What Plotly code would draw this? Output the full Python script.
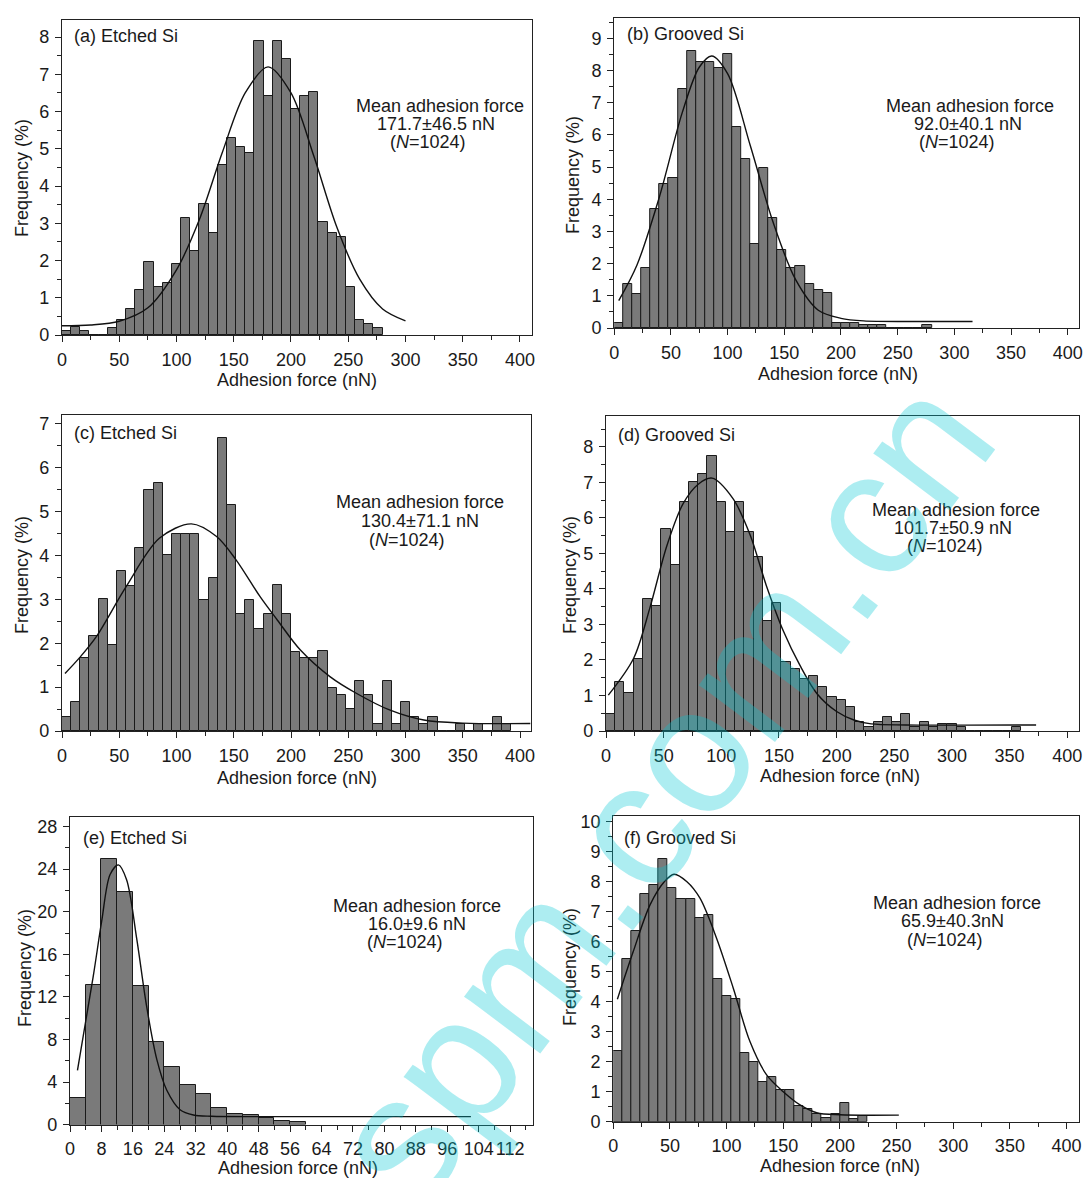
import plotly.graph_objects as go

W, H = 1087, 1178
FONT = "Liberation Sans, Arial, sans-serif"

# ---- histogram data: frequency (%) per bin, N = 1024 -----------------------
a_bin = 8
a_freq = [0.1, 0.22, 0.1, 0, 0, 0.2, 0.4, 0.7, 1.21, 1.97, 1.28, 1.4, 1.9, 3.15,
          2.26, 3.52, 2.73, 4.56, 5.28, 5.06, 4.88, 7.89, 6.43, 7.89, 7.41, 6.06,
          6.43, 6.53, 3.04, 2.73, 2.64, 1.29, 0.4, 0.29, 0.2]
a_fit_x = [0, 25, 50, 75, 100, 120, 140, 160, 180, 200, 220, 240, 260, 280, 300]
a_fit_y = [0.25, 0.27, 0.37, 0.73, 1.75, 3.1, 4.9, 6.5, 7.2, 6.5, 4.8, 2.9, 1.5, 0.7, 0.38]

b_bin = 8
b_freq = [0.16, 1.37, 1.06, 1.85, 3.7, 4.47, 4.65, 7.41, 8.6, 8.27, 8.27, 8.08,
          8.5, 6.23, 5.24, 2.61, 4.96, 3.41, 2.42, 1.85, 1.94, 1.37, 1.18, 1.08,
          0.16, 0.16, 0.16, 0.1, 0.1, 0.1, 0, 0, 0, 0, 0.1]
b_fit_x = [4, 20, 40, 60, 75, 86, 100, 120, 140, 160, 180, 200, 220, 260, 316]
b_fit_y = [0.85, 1.95, 4.09, 6.69, 8.1, 8.45, 7.9, 5.67, 3.3, 1.5, 0.55, 0.3, 0.22, 0.2, 0.2]

c_bin = 8
c_freq = [0.31, 0.65, 1.66, 2.16, 3.0, 1.97, 3.65, 3.3, 4.18, 5.49, 5.66, 4.01,
          4.49, 4.49, 4.49, 2.98, 3.48, 6.67, 5.15, 2.66, 2.98, 2.32, 2.66, 3.33,
          2.66, 1.81, 1.66, 1.66, 1.82, 0.99, 0.82, 0.49, 1.15, 0.82, 0.15, 1.15,
          0.15, 0.65, 0.33, 0.15, 0.33, 0, 0, 0.15, 0, 0.15, 0, 0.33, 0.15]
c_fit_x = [2.6, 15, 30, 56, 85, 113, 135, 152, 173, 188, 208, 234, 257, 286, 316, 350, 409]
c_fit_y = [1.31, 1.66, 2.15, 3.29, 4.39, 4.72, 4.43, 3.9, 3.06, 2.53, 1.85, 1.24, 0.86,
           0.48, 0.25, 0.18, 0.17]

d_bin = 8
d_freq = [0.48, 1.37, 1.06, 2.02, 3.71, 3.52, 5.68, 4.68, 6.44, 7.02, 7.23, 7.73,
          6.44, 5.59, 6.44, 5.59, 4.89, 3.1, 3.6, 1.93, 1.75, 1.46, 1.55, 1.25,
          0.97, 0.87, 0.69, 0.26, 0.1, 0.26, 0.39, 0.26, 0.48, 0.1, 0.26, 0.1,
          0.2, 0.2, 0.1, 0, 0, 0, 0, 0, 0.1]
d_fit_x = [2, 24, 38, 53, 67, 80, 92, 110, 125, 139, 154, 168, 183, 200, 215, 230, 260, 373]
d_fit_y = [1.01, 2.05, 3.46, 5.24, 6.41, 6.95, 7.12, 6.55, 5.52, 4.1, 2.8, 1.86, 1.05,
           0.55, 0.31, 0.2, 0.17, 0.17]

e_bin = 4
e_freq = [2.5, 13.1, 25.0, 21.9, 13.0, 7.8, 5.4, 3.7, 2.9, 1.6, 1.0, 0.9, 0.6, 0.3, 0.2]
e_fit_x = [1.9, 5.9, 8.1, 10.2, 12.3, 14.4, 17, 19.5, 22.1, 24.6, 28, 31.4, 36, 50, 102]
e_fit_y = [5.1, 13.9, 19.2, 23.5, 24.4, 23.0, 17.4, 11.1, 6.1, 3.25, 1.4, 0.9, 0.78, 0.75, 0.75]

f_bin = 8
f_freq = [2.37, 5.41, 6.36, 7.59, 7.89, 8.75, 7.8, 7.41, 7.41, 6.8, 6.89, 4.76,
          4.2, 4.09, 2.28, 1.98, 1.33, 1.5, 1.06, 1.06, 0.52, 0.42, 0.25, 0.14,
          0.25, 0.61, 0.1, 0.2]
f_fit_x = [3.6, 17.6, 32.3, 45, 53.6, 65, 76.5, 91.2, 105.9, 120.6, 135.3, 150,
           164.8, 179.5, 200, 252]
f_fit_y = [4.08, 5.67, 7.22, 8.0, 8.25, 8.0, 7.45, 6.11, 4.45, 2.67, 1.56, 1.0,
           0.56, 0.3, 0.23, 0.22]

panel_titles = ["(a) Etched Si", "(b) Grooved Si", "(c) Etched Si",
                "(d) Grooved Si", "(e) Etched Si", "(f) Grooved Si"]
stat_lines = [
    ["Mean adhesion force", "171.7±46.5 nN", "(<i>N</i>=1024)"],
    ["Mean adhesion force", "92.0±40.1 nN", "(<i>N</i>=1024)"],
    ["Mean adhesion force", "130.4±71.1 nN", "(<i>N</i>=1024)"],
    ["Mean adhesion force", "101.7±50.9 nN", "(<i>N</i>=1024)"],
    ["Mean adhesion force", "16.0±9.6 nN", "(<i>N</i>=1024)"],
    ["Mean adhesion force", "65.9±40.3nN", "(<i>N</i>=1024)"],
]
x_title = "Adhesion force (nN)"
y_title = "Frequency (%)"
watermark = "spm.com.cn"

# ---- layout of each panel (pixel box: left, top, right, bottom) ------------
panels = [
    dict(data=(a_bin, a_freq, a_fit_x, a_fit_y), box=(62, 20, 532, 335),
         xr=[0, 410.5], yr=[0, 8.46], xd=50, xm=25, yd=1, ym=0.5,
         lab=(72, 36), stat=[(440, 106), (436, 124), (428, 142)],
         ytl=(22, 178), xtl=(297, 380)),
    dict(data=(b_bin, b_freq, b_fit_x, b_fit_y), box=(614.2, 18, 1079, 328),
         xr=[0, 409.9], yr=[0, 9.63], xd=50, xm=25, yd=1, ym=0.5,
         lab=(625, 34), stat=[(970, 106), (968, 124), (957, 142)],
         ytl=(573, 175), xtl=(838, 374)),
    dict(data=(c_bin, c_freq, c_fit_x, c_fit_y), box=(62, 415, 531, 731),
         xr=[0, 409.6], yr=[0, 7.2], xd=50, xm=25, yd=1, ym=0.5,
         lab=(72, 433), stat=[(420, 502), (420, 521), (407, 540)],
         ytl=(22, 575), xtl=(297, 778)),
    dict(data=(d_bin, d_freq, d_fit_x, d_fit_y), box=(606, 416, 1079, 731),
         xr=[0, 410.2], yr=[0, 8.87], xd=50, xm=25, yd=1, ym=0.5,
         lab=(616, 435), stat=[(956, 510), (953, 528), (945, 546)],
         ytl=(570, 575), xtl=(840, 776)),
    dict(data=(e_bin, e_freq, e_fit_x, e_fit_y), box=(70, 817, 533, 1124.6),
         xr=[0, 117.8], yr=[0, 28.9], xd=8, xm=4, yd=4, ym=2,
         lab=(81, 838), stat=[(417, 906), (417, 924), (405, 942)],
         ytl=(25, 968), xtl=(298, 1168)),
    dict(data=(f_bin, f_freq, f_fit_x, f_fit_y), box=(613.3, 816, 1079, 1121.7),
         xr=[0, 411], yr=[0, 10.19], xd=50, xm=25, yd=1, ym=0.5,
         lab=(622, 838), stat=[(957, 903), (952, 921), (945, 940)],
         ytl=(570, 967), xtl=(840, 1166)),
]


def fx(px):
    return px / W


def fy(py):
    return 1 - py / H


fig = go.Figure()
annotations = []
AX = "#222222"

for i, p in enumerate(panels):
    n = "" if i == 0 else str(i + 1)
    bin_w, freq, fit_x, fit_y = p["data"]
    centers = [bin_w * (k + 0.5) for k in range(len(freq))]

    fig.add_trace(go.Bar(
        x=centers, y=freq, width=bin_w, xaxis="x" + n, yaxis="y" + n,
        marker=dict(color="#7a7a7a", line=dict(color="#1a1a1a", width=1)),
        showlegend=False, hoverinfo="x+y"))
    fig.add_trace(go.Scatter(
        x=fit_x, y=fit_y, mode="lines", xaxis="x" + n, yaxis="y" + n,
        line=dict(color="#111111", width=1.4, shape="spline", smoothing=0.9),
        showlegend=False))

    l, t, r, b = p["box"]
    common = dict(showline=True, linecolor=AX, linewidth=1.2, mirror=True,
                  ticks="outside", ticklen=6, tickwidth=1.2, tickcolor=AX,
                  showgrid=False, zeroline=False, automargin=False,
                  tickfont=dict(family=FONT, size=18, color="#1a1a1a"))
    fig.layout["xaxis" + n] = dict(
        domain=[fx(l), fx(r)], range=p["xr"], anchor="y" + n, tick0=0,
        dtick=p["xd"], tickangle=0,
        minor=dict(dtick=p["xm"], tick0=0, ticks="outside",
                   ticklen=4, tickcolor=AX, tickwidth=1.2),
        ticklabelstandoff=2, **common)
    fig.layout["yaxis" + n] = dict(
        domain=[fy(b), fy(t)], range=p["yr"], anchor="x" + n, tick0=0,
        dtick=p["yd"],
        minor=dict(dtick=p["ym"], tick0=0, ticks="outside",
                   ticklen=4, tickcolor=AX, tickwidth=1.2),
        ticklabelstandoff=2, **common)

    txt = dict(xref="paper", yref="paper", showarrow=False,
               font=dict(family=FONT, size=18, color="#1a1a1a"))
    annotations.append(dict(text=panel_titles[i], x=fx(p["lab"][0]),
                            y=fy(p["lab"][1]), xanchor="left", yanchor="middle", **txt))
    for line, (sx, sy) in zip(stat_lines[i], p["stat"]):
        annotations.append(dict(text=line, x=fx(sx), y=fy(sy),
                                xanchor="center", yanchor="middle", **txt))
    annotations.append(dict(text=x_title, x=fx(p["xtl"][0]), y=fy(p["xtl"][1]),
                            xanchor="center", yanchor="middle", **txt))
    annotations.append(dict(text=y_title, x=fx(p["ytl"][0]), y=fy(p["ytl"][1]),
                            xanchor="center", yanchor="middle", textangle=-90, **txt))

# translucent diagonal site watermark over the lower panels
annotations.append(dict(
    text=watermark, xref="paper", yref="paper",
    x=fx(660), y=fy(790), xanchor="center", yanchor="middle", textangle=-53,
    showarrow=False,
    font=dict(family=FONT, size=180, color="rgba(0,200,210,0.32)")))

fig.update_layout(
    width=W, height=H, margin=dict(l=0, r=0, t=0, b=0),
    paper_bgcolor="white", plot_bgcolor="white", bargap=0,
    annotations=annotations, showlegend=False,
)

fig.write_html("out.html")
